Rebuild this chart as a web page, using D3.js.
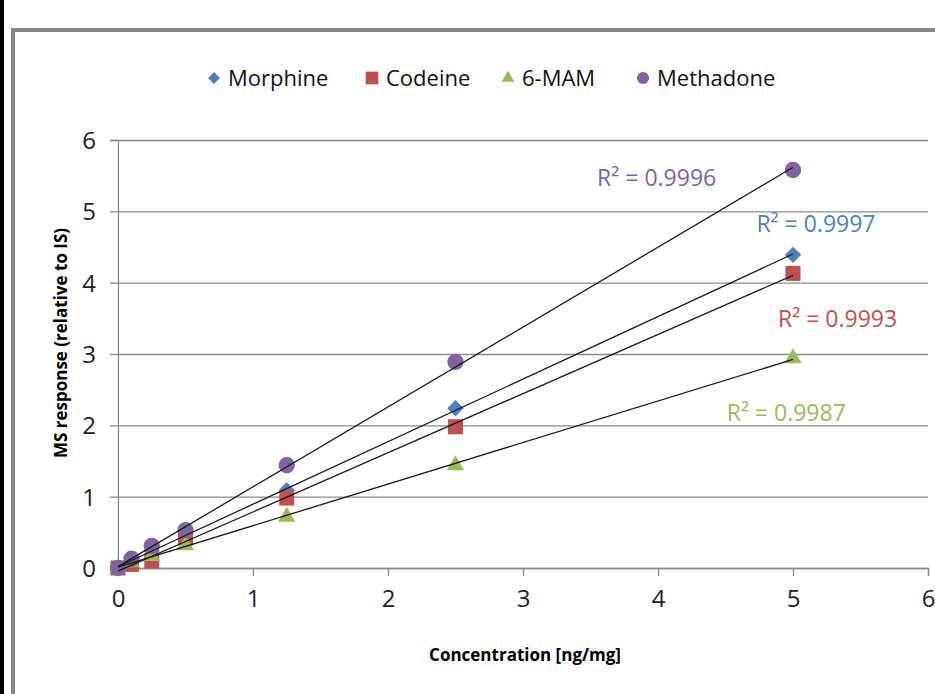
<!DOCTYPE html>
<html>
<head>
<meta charset="utf-8">
<script src="https://cdnjs.cloudflare.com/ajax/libs/d3/7.8.5/d3.min.js"></script>
<style>
  body { margin: 0; background: #fff; }
  svg { display: block; }
</style>
</head>
<body>
<div id="chart"></div>
<script>
// data
var concentrations = [0, 0.1, 0.25, 0.5, 1.25, 2.5, 5];
var seriesNames = ["Morphine", "Codeine", "6-MAM", "Methadone"];
var morphine = [0, 0.10, 0.24, 0.48, 1.09, 2.24, 4.39];
var codeine = [0, 0.05, 0.10, 0.42, 0.98, 1.98, 4.13];
var mam6 = [0, 0.08, 0.17, 0.32, 0.72, 1.44, 2.94];
var methadone = [0, 0.13, 0.31, 0.53, 1.44, 2.89, 5.58];
var rSquared = ["0.9997", "0.9993", "0.9987", "0.9996"];
var xTicks = [0, 1, 2, 3, 4, 5, 6];
var yTicks = [0, 1, 2, 3, 4, 5, 6];

var seriesValues = [morphine, codeine, mam6, methadone];
var colors = ["#4F81BD", "#C0504D", "#9BBB59", "#8064A2"];
// where the R² labels sit, in data units
var labelPos = [[5.17, 4.82], [5.33, 3.49], [4.95, 2.17], [3.99, 5.47]];

var width = 935, height = 694;
var font = "'Open Sans', 'Noto Sans', sans-serif";

var svg = d3.select("#chart").append("svg")
  .attr("width", width)
  .attr("height", height);

// frame
svg.append("rect")
  .attr("x", 0).attr("y", 0)
  .attr("width", 4).attr("height", height)
  .style("fill", "#000");

svg.append("rect")
  .attr("x", 13).attr("y", 30)
  .attr("width", width + 50).attr("height", height + 50)
  .style("fill", "#fff")
  .style("stroke", "#878787")
  .style("stroke-width", 4);

var x = d3.scaleLinear().domain([0, 6]).range([118, 928]);
var y = d3.scaleLinear().domain([0, 6]).range([568, 140]);

// gridlines
svg.append("g")
  .attr("transform", "translate(" + x(0) + ",0)")
  .call(d3.axisLeft(y).tickValues(yTicks).tickSize(-(x(6) - x(0))).tickFormat(""))
  .call(function(g) { g.select(".domain").remove(); })
  .selectAll("line")
  .style("stroke", "#8c8c8c")
  .style("stroke-width", 1.3);

var yAxis = svg.append("g")
  .attr("transform", "translate(" + x(0) + ",0)")
  .call(d3.axisLeft(y).tickValues(yTicks).tickSize(8).tickPadding(14).tickFormat(d3.format("d")));

var xAxis = svg.append("g")
  .attr("transform", "translate(0," + y(0) + ")")
  .call(d3.axisBottom(x).tickValues(xTicks).tickSize(8).tickPadding(14).tickFormat(d3.format("d")));

[yAxis, xAxis].forEach(function(a) {
  a.select(".domain").style("stroke", "#8c8c8c").style("stroke-width", 1.3);
  a.selectAll("line").style("stroke", "#8c8c8c").style("stroke-width", 1.3);
  a.selectAll("text")
    .style("font-family", font)
    .style("font-size", "24px")
    .style("fill", "#222");
});
yAxis.selectAll("text").attr("dy", "0.36em");

// axis titles
svg.append("text")
  .attr("x", 525)
  .attr("y", 661)
  .attr("text-anchor", "middle")
  .style("font-family", font)
  .style("font-weight", "bold")
  .style("font-size", "17px")
  .text("Concentration [ng/mg]");

svg.append("text")
  .attr("transform", "translate(67,343) rotate(-90)")
  .attr("text-anchor", "middle")
  .style("font-family", font)
  .style("font-weight", "bold")
  .style("font-size", "17px")
  .text("MS response (relative to IS)");

// markers
var symbols = [
  {type: d3.symbolSquare, size: 135, rotate: 45},
  {type: d3.symbolSquare, size: 225, rotate: 0},
  {type: d3.symbolTriangle, size: 130, rotate: 0},
  {type: d3.symbolCircle, size: 210, rotate: 0}
];

var series = seriesNames.map(function(name, i) {
  return {
    name: name,
    color: colors[i],
    symbol: symbols[i],
    r2: rSquared[i],
    label: labelPos[i],
    points: concentrations.map(function(c, j) { return {x: c, y: seriesValues[i][j]}; })
  };
});

series.forEach(function(s) {
  svg.append("g").selectAll("path")
    .data(s.points)
    .enter()
    .append("path")
    .attr("d", d3.symbol().type(s.symbol.type).size(s.symbol.size))
    .attr("transform", function(d) {
      return "translate(" + x(d.x) + "," + y(d.y) + ") rotate(" + s.symbol.rotate + ")";
    })
    .style("fill", s.color);
});

// linear trendlines (least squares)
function fit(points) {
  var mx = d3.mean(points, function(d) { return d.x; });
  var my = d3.mean(points, function(d) { return d.y; });
  var sxy = d3.sum(points, function(d) { return (d.x - mx) * (d.y - my); });
  var sxx = d3.sum(points, function(d) { return (d.x - mx) * (d.x - mx); });
  var slope = sxy / sxx;
  return {slope: slope, intercept: my - slope * mx};
}

var line = d3.line()
  .x(function(d) { return x(d[0]); })
  .y(function(d) { return y(d[1]); });

series.forEach(function(s) {
  var f = fit(s.points);
  var ext = d3.extent(s.points, function(d) { return d.x; });
  svg.append("path")
    .datum(ext.map(function(v) { return [v, f.intercept + f.slope * v]; }))
    .attr("d", line)
    .style("fill", "none")
    .style("stroke", "#1a1a1a")
    .style("stroke-width", 1.3);

  svg.append("text")
    .attr("x", x(s.label[0]))
    .attr("y", y(s.label[1]))
    .attr("dy", "0.36em")
    .attr("text-anchor", "middle")
    .style("font-family", font)
    .style("font-size", "23px")
    .style("fill", s.color)
    .text("R\u00b2 = " + s.r2);
});

// legend
var legendX = [214, 372, 508, 643];
var legend = svg.append("g").attr("transform", "translate(0,78)");
var legendSymbols = [
  {type: d3.symbolSquare, size: 72, rotate: 45},
  {type: d3.symbolSquare, size: 160, rotate: 0},
  {type: d3.symbolTriangle, size: 70, rotate: 0},
  {type: d3.symbolCircle, size: 115, rotate: 0}
];

var item = legend.selectAll("g")
  .data(series)
  .enter()
  .append("g")
  .attr("transform", function(d, i) { return "translate(" + legendX[i] + ",0)"; });

item.append("path")
  .attr("d", function(d, i) { return d3.symbol().type(legendSymbols[i].type).size(legendSymbols[i].size)(); })
  .attr("transform", function(d, i) { return "rotate(" + legendSymbols[i].rotate + ")"; })
  .style("fill", function(d) { return d.color; });

item.append("text")
  .attr("x", 14)
  .attr("dy", "0.36em")
  .style("font-family", font)
  .style("font-size", "22px")
  .style("fill", "#111")
  .text(function(d) { return d.name; });
</script>
</body>
</html>
